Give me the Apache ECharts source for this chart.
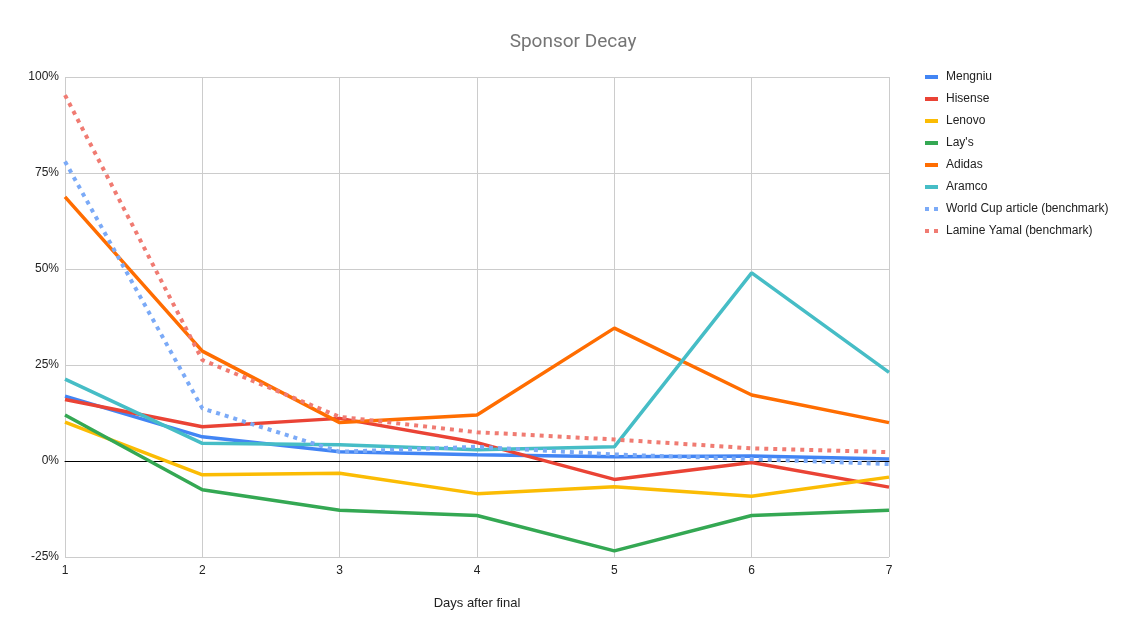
<!DOCTYPE html>
<html><head><meta charset="utf-8">
<script src="https://cdn.jsdelivr.net/npm/echarts@6/dist/echarts.min.js"></script>
<style>html,body{margin:0;padding:0;background:#fff}#c{width:1134px;height:634px}</style>
</head><body><div id="c"></div>
<script>
const days = ['1','2','3','4','5','6','7'];
const mengniu = [16.9, 6.3, 2.4, 1.6, 1.1, 1.3, 0.5];
const hisense = [16.0, 8.9, 11.1, 4.8, -4.8, -0.4, -6.8];
const lenovo = [10.1, -3.6, -3.2, -8.5, -6.7, -9.2, -4.2];
const lays = [12.0, -7.5, -12.8, -14.2, -23.4, -14.2, -12.8];
const adidas = [68.8, 28.6, 10.0, 12.0, 34.6, 17.2, 10.0];
const aramco = [21.3, 4.6, 4.2, 2.9, 3.7, 49.0, 23.1];
const worldCup = [78.0, 13.7, 2.4, 3.7, 1.7, 0.5, -0.8];
const lamine = [95.3, 26.3, 11.5, 7.5, 5.6, 3.3, 2.3];
const yTicks = [-25, 0, 25, 50, 75, 100];

const solidIcon = 'path://M0,0h13v4h-13z';
const dotIcon = 'path://M0,0h4v4h-4z M9,0h4v4h-4z';

function s(name, data, color, dotted) {
  return {
    name, type: 'line', data, symbol: 'none', smooth: false,
    lineStyle: { color, width: dotted ? 4 : 3.5, type: dotted ? [4, 5] : 'solid', cap: 'butt' },
    itemStyle: { color },
    icon: dotted ? dotIcon : solidIcon,
    z: dotted ? 3 : 2
  };
}
const series = [
  s('Mengniu', mengniu, '#4285F4'),
  s('Hisense', hisense, '#EA4335'),
  s('Lenovo', lenovo, '#FBBC04'),
  s("Lay's", lays, '#34A853'),
  s('Adidas', adidas, '#FF6D01'),
  s('Aramco', aramco, '#46BDC6'),
  s('World Cup article (benchmark)', worldCup, '#7BAAF7', true),
  s('Lamine Yamal (benchmark)', lamine, '#F07B72', true)
];

const chart = echarts.init(document.getElementById('c'));
chart.setOption({
  animation: false,
  title: { text: 'Sponsor Decay', left: 568, top: 28, textAlign: 'center',
    textStyle: { color: '#757575', fontSize: 19, fontWeight: 'normal', fontFamily: 'Roboto, Arial, sans-serif' } },
  legend: {
    orient: 'vertical', left: 920, top: 65, itemWidth: 13, itemHeight: 4, itemGap: 8,
    data: series.map(x => ({ name: x.name, icon: x.icon })),
    textStyle: { color: '#222', fontSize: 12, lineHeight: 14, fontFamily: 'Arial, Liberation Sans, sans-serif', padding: [0,0,0,3] }
  },
  grid: { left: 65, right: 245, top: 77, bottom: 77, containLabel: false },
  xAxis: {
    type: 'category', data: days, boundaryGap: false,
    name: 'Days after final', nameLocation: 'middle', nameGap: 40,
    nameTextStyle: { color: '#222', fontSize: 13, fontFamily: 'Arial, Liberation Sans, sans-serif' },
    axisLine: { onZero: true, lineStyle: { color: '#000', width: 1 } },
    axisTick: { show: false },
    axisLabel: { color: '#222', fontSize: 12, margin: 8, fontFamily: 'Arial, Liberation Sans, sans-serif' },
    splitLine: { show: true, lineStyle: { color: '#ccc' } }
  },
  yAxis: {
    type: 'value', min: yTicks[0], max: yTicks[yTicks.length - 1], interval: 25,
    axisLine: { show: false }, axisTick: { show: false },
    axisLabel: { color: '#222', fontSize: 12, margin: 6, formatter: v => v + '%', fontFamily: 'Arial, Liberation Sans, sans-serif' },
    splitLine: { show: true, lineStyle: { color: '#ccc' } }
  },
  series: series.map(({icon, ...rest}) => rest)
});
</script></body></html>
